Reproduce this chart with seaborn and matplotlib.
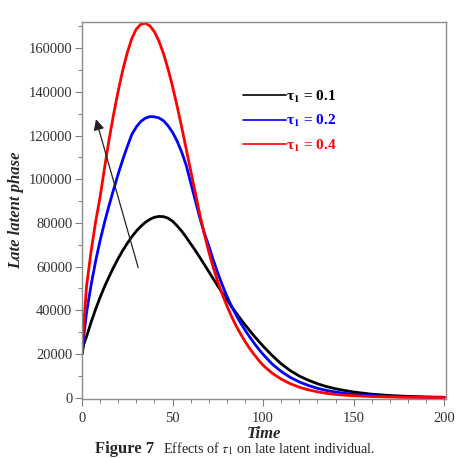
import numpy as np
import pandas as pd
import matplotlib
matplotlib.use("Agg")
import matplotlib.pyplot as plt
import seaborn as sns

# ---- data ----
time = [0, 1, 2.5, 5, 7.5, 10, 12.5, 15, 17.5, 20, 22.5, 25, 27.5, 30, 32.5, 35,
        37.5, 40, 42.5, 45, 47.5, 50, 52.5, 55, 57.5, 60, 62.5, 65, 67.5, 70,
        72.5, 75, 77.5, 80, 82.5, 85, 87.5, 90, 92.5, 95, 97.5, 100, 105, 110,
        115, 120, 125, 130, 135, 140, 145, 150, 160, 170, 180, 190, 200]
late_tau01 = [20000, 24500, 28000, 34500, 40500, 46000, 51000, 55500, 59800, 63800,
              67400, 70700, 73700, 76300, 78500, 80300,
              81700, 82600, 83000, 82900, 82200, 80800, 78700, 76300, 73500, 70500,
              67500, 64300, 61000, 57700,
              54400, 51100, 47900, 44800, 41800, 38900, 36100, 33400, 30800, 28300,
              25900, 23600, 19300, 15500,
              12400, 9900, 8000, 6400, 5100, 4100, 3300, 2600, 1600, 1000, 600, 350, 200]
late_tau02 = [20000, 28500, 39000, 51500, 62500, 72000, 80500, 88200, 95500, 102500,
              109000, 115000, 120500, 124000, 126500, 128000,
              128700, 128600, 128100, 126800, 124500, 121500, 117500, 112500, 106500, 98500,
              90500, 82500, 75500, 69500,
              63000, 57000, 51500, 46500, 42000, 38000, 34300, 31000, 27900, 25000,
              22300, 19800, 15400, 12000,
              9300, 7200, 5600, 4300, 3300, 2600, 2000, 1500, 900, 500, 300, 180, 100]
late_tau04 = [20000, 34000, 51000, 67000, 80500, 92000, 105500, 118500, 130000, 140500,
              150000, 158000, 164500, 168800, 171000, 171500,
              170200, 167500, 163200, 157500, 150500, 142500, 133500, 124000, 114000, 104000,
              94000, 84000, 75000, 66800,
              59500, 53000, 47300, 42000, 37300, 33000, 29300, 25800, 22600, 19800,
              17200, 14800, 11200, 8500,
              6400, 4800, 3600, 2700, 2000, 1500, 1150, 900, 550, 330, 200, 120, 70]
series_labels = ["τ$_\\mathbf{1}$ = 0.1", "τ$_\\mathbf{1}$ = 0.2", "τ$_\\mathbf{1}$ = 0.4"]
colors = ["#000000", "#0000ff", "#ff0000"]
x_ticks = [0, 50, 100, 150, 200]
y_ticks = [0, 20000, 40000, 60000, 80000, 100000, 120000, 140000, 160000]

df = pd.DataFrame({
    "Time": time * 3,
    "value": late_tau01 + late_tau02 + late_tau04,
    "series": [series_labels[0]] * len(time) + [series_labels[1]] * len(time)
              + [series_labels[2]] * len(time),
})

sns.set_style("ticks")
plt.rcParams["font.family"] = ["Liberation Serif", "DejaVu Serif"]
plt.rcParams["mathtext.fontset"] = "stix"

fig = plt.figure(figsize=(4.73, 4.58), dpi=100)
ax = fig.add_axes([0.1734, 0.1288, 0.7696, 0.8231])

sns.lineplot(data=df, x="Time", y="value", hue="series", palette=colors,
             linewidth=2.0, ax=ax, legend=False)

ax.set_xlim(0, 201)
ax.set_ylim(-600, 172000)
ax.set_xticks(x_ticks)
ax.set_yticks(y_ticks)
ax.set_xticks(np.arange(0, 201, 10), minor=True)
ax.set_yticks(np.arange(0, 172000, 10000), minor=True)
ax.tick_params(axis="both", which="major", length=5, width=0.8, color="#808080",
               labelsize=10.5, labelcolor="#333333", direction="out")
ax.tick_params(axis="x", which="major", pad=4)
ax.tick_params(axis="y", which="major", pad=2)
ax.tick_params(axis="both", which="minor", length=3, width=0.7, color="#808080",
               direction="out")
for s in ax.spines.values():
    s.set_color("#8c8c8c")
    s.set_linewidth(1.0)

ax.set_xlabel("Time", fontsize=12, fontweight="bold", style="italic", labelpad=1)
ax.set_ylabel("Late latent phase", fontsize=12, fontweight="bold", style="italic",
              labelpad=3)

# legend
handles = [plt.Line2D([], [], color=c, lw=1.2) for c in colors]
leg = ax.legend(handles, series_labels, loc="upper left", bbox_to_anchor=(0.405, 0.86),
                frameon=False, handlelength=2.8, handletextpad=0.0, labelspacing=0.55,
                prop={"weight": "bold", "size": 11})
for t, c in zip(leg.get_texts(), colors):
    t.set_color(c)

# arrow
ax.annotate("", xy=(7.7, 127500), xytext=(31, 59600),
            arrowprops=dict(arrowstyle="-|>", color="#222222", lw=0.9,
                            mutation_scale=16, shrinkA=0, shrinkB=0))

# caption
fig.text(0.326, 0.002, "Figure 7", fontsize=12, fontweight="bold", ha="right",
         va="bottom")
fig.text(0.345, 0.002, "Effects of $\\tau_1$ on late latent individual.", fontsize=10.2,
         ha="left", va="bottom")

fig.savefig("out.png", dpi=100)
